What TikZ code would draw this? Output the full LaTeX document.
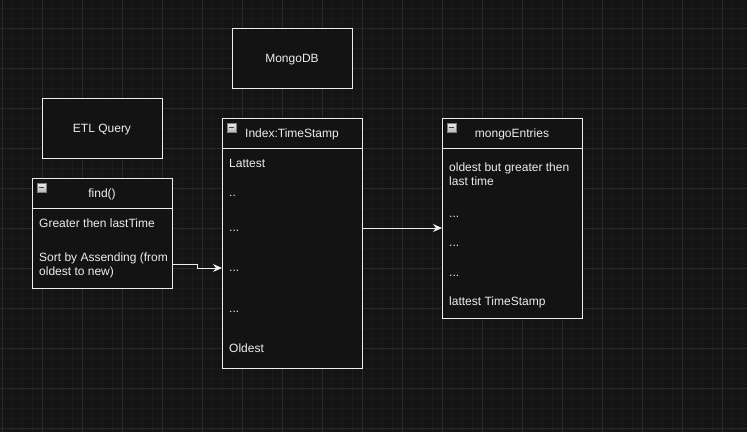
\documentclass[tikz,border=0pt]{standalone}
\usepackage{fontspec}
\setmainfont{Liberation Sans}
\usetikzlibrary{positioning, arrows.meta}
\definecolor{canvas}{HTML}{141414}
\definecolor{minorline}{HTML}{1B1B1B}
\definecolor{majorline}{HTML}{2A2A2A}
\definecolor{boxfill}{HTML}{131313}
\definecolor{ink}{HTML}{EDEDED}
\tikzset{box/.style={draw=ink,fill=boxfill,line width=1pt,text=ink,minimum width=120pt,minimum height=60pt,inner sep=0pt,outer sep=0pt,text height=10pt,text depth=2pt},
         head/.style={box,minimum width=140pt,minimum height=30pt},
         body/.style={box,minimum width=140pt},
         item/.style={anchor=base west,inner sep=0pt,text=ink,text height=9pt,text depth=3pt},
         toggle/.style={draw=gray,top color=gray!15,bottom color=gray!55,minimum size=9pt,inner sep=0pt,
                        path picture={\draw[black!75,line width=1pt]([xshift=2pt]path picture bounding box.west)--([xshift=-2pt]path picture bounding box.east);}},
         link/.style={draw=ink,line width=1pt,-{Stealth[length=9pt,width=8pt]}},
        }

\begin{document}
\begin{tikzpicture}[x=1pt,y=-1pt,font=\fontsize{12}{14}\selectfont]
        \useasboundingbox[fill=canvas](0,0)rectangle(747,432);
        \foreach \x in {2,12,...,742} \draw[minorline](\x,0)--(\x,432);
        \foreach \y in {8,18,...,428} \draw[minorline](0,\y)--(747,\y);
        \foreach \x in {2,42,...,722} \draw[majorline](\x,0)--(\x,432);
        \foreach \y in {28,68,...,428} \draw[majorline](0,\y)--(747,\y);

        \node[box](mongodb)at(292,58){MongoDB};
        \node[box](etl)at(102,128){ETL Query};

        \node[head](findhead)at(102,193){find()};
        \node[body,minimum height=80pt,below=0pt of findhead](findbody){};
        \node[toggle,below right=5pt and 5pt of findhead.north west](findtoggle){};
        \node[item](greater)at(39,227){Greater then lastTime};
        \node[item,align=left,text height=,text depth=](sort)at(39,275){Sort by Assending (from\\oldest to new)};

        \node[head](idxhead)at(292,133){Index:TimeStamp};
        \node[body,minimum height=220pt,below=0pt of idxhead](idxbody){};
        \node[toggle,below right=5pt and 5pt of idxhead.north west](idxtoggle){};
        \node[item](latest)at(229,167){Lattest};
        \node[item](idot1)at(229,196){..};
        \node[item](idot2)at(229,231){...};
        \node[item](idot3)at(229,271){...};
        \node[item](idot4)at(229,312){...};
        \node[item](oldest)at(229,352){Oldest};

        \node[head](entryhead)at(512,133){mongoEntries};
        \node[body,minimum height=170pt,below=0pt of entryhead](entrybody){};
        \node[toggle,below right=5pt and 5pt of entryhead.north west](entrytoggle){};
        \node[item,align=left,text height=,text depth=](firstentry)at(449,185){oldest but greater then\\last time};
        \node[item](edot1)at(449,217){...};
        \node[item](edot2)at(449,246){...};
        \node[item](edot3)at(449,276){...};
        \node[item](lastentry)at(449,305){lattest TimeStamp};

        \draw[link](sort -| findbody.east)--++(25,0)|-(idot3 -| idxbody.west);
        \draw[link](idot2 -| idxbody.east)--(idot2 -| entrybody.west);
    \end{tikzpicture}
\end{document}
